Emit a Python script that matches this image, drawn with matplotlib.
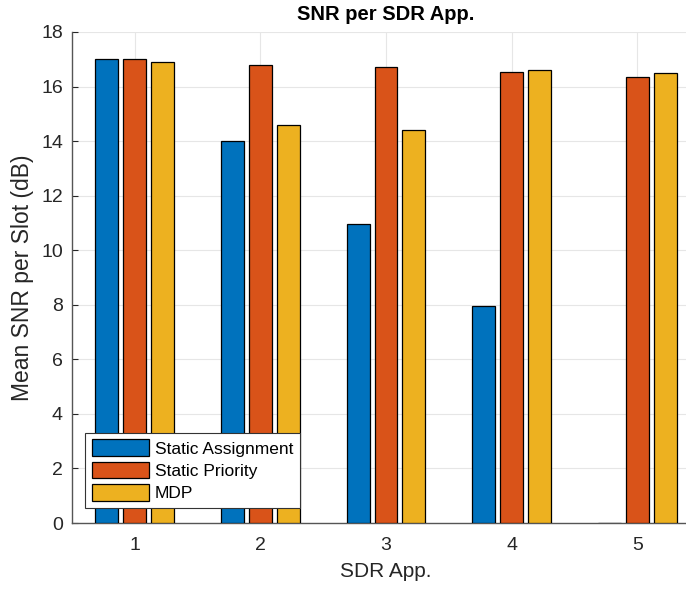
import numpy as np
import matplotlib
matplotlib.use("Agg")
import matplotlib.pyplot as plt

plt.rcParams['font.family'] = ['Liberation Sans', 'DejaVu Sans']

apps = [1, 2, 3, 4, 5]
static_assignment = [17.0, 14.0, 10.95, 7.95, 0.0]
static_priority = [17.0, 16.8, 16.7, 16.55, 16.35]
mdp = [16.9, 14.6, 14.4, 16.6, 16.5]

series = [("Static Assignment", static_assignment, "#0072BD"),
          ("Static Priority", static_priority, "#D95319"),
          ("MDP", mdp, "#EDB120")]

fig = plt.figure(figsize=(6.86, 5.9), dpi=100)
ax = fig.add_axes([72/686, 67/590, 628/686, 491/590])

x = np.array(apps, dtype=float)
off = 0.222
w = 0.182
for i, (name, vals, col) in enumerate(series):
    ax.bar(x + (i - 1) * off, vals, width=w, color=col, edgecolor='black',
           linewidth=0.9, label=name, zorder=3)

ax.set_xlim(0.5, 5.5)
ax.set_ylim(0, 18)
ax.set_xticks(apps)
ax.set_yticks(np.arange(0, 19, 2))
ax.grid(True, color='#e6e6e6', linewidth=0.8, zorder=0)
ax.tick_params(direction='in', length=4, labelsize=14, colors='#262626',
               labelcolor='#262626')
ax.tick_params(axis='x', pad=10)
ax.tick_params(axis='y', pad=6.5)
for s in ['top', 'right']:
    ax.spines[s].set_visible(False)
for s in ['left', 'bottom']:
    ax.spines[s].set_color('#555555')
    ax.spines[s].set_linewidth(1.0)

ax.set_xlabel('SDR App.', fontsize=15, color='#262626', labelpad=6)
ax.set_ylabel('Mean SNR per Slot (dB)', fontsize=16.5, color='#262626', labelpad=5)
ax.set_title('SNR per SDR App.', fontsize=14.5, fontweight='bold', pad=9)

leg = ax.legend(loc='lower left', bbox_to_anchor=(13/628, 15/491), fontsize=12.5,
                frameon=True, fancybox=False, framealpha=1, edgecolor='#333333',
                handlelength=3.3, handleheight=1.1, handletextpad=0.35,
                borderpad=0.38, labelspacing=0.3, borderaxespad=0)
leg.get_frame().set_linewidth(0.8)
leg.set_zorder(5)

fig.savefig('out.png', dpi=100)
